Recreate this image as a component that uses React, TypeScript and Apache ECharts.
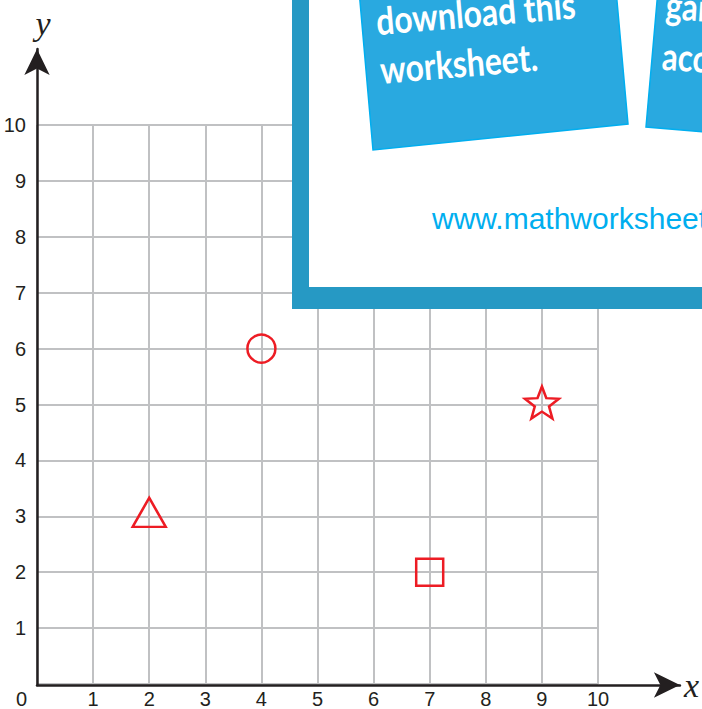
import React, { useEffect, useRef } from "react";
import * as echarts from "echarts";

// ---- data ----
const xTicks = [0, 1, 2, 3, 4, 5, 6, 7, 8, 9, 10];
const yTicks = [0, 1, 2, 3, 4, 5, 6, 7, 8, 9, 10];
const shapeNames = ["triangle", "circle", "square", "star"];
const shapeX = [2, 4, 7, 9];
const shapeY = [3, 6, 2, 5];
const xName = "x";
const yName = "y";
const note1Lines = ["download this", "worksheet."];
const note2Lines = ["gain", "access"];
const siteText = "www.mathworksheets4kids.com";

// ---- styles ----
const RED = "#ed1c24";
const GRIDC = "#c0c1c3";
const INK = "#231f20";

function starPath(R: number, r: number) {
  let d = "";
  for (let i = 0; i < 10; i++) {
    const a = (-90 + i * 36) * Math.PI / 180;
    const rad = i % 2 === 0 ? R : r;
    const px = (rad * Math.cos(a)).toFixed(2);
    const py = (rad * Math.sin(a)).toFixed(2);
    d += (i === 0 ? "M" : "L") + px + " " + py + " ";
  }
  return "path://" + d + "Z";
}

const symbolStyle: Record<string, any> = {
  triangle: { symbol: "triangle", symbolSize: [33, 29], symbolOffset: [0, -4] },
  circle: { symbol: "circle", symbolSize: 28, symbolOffset: [0, 0] },
  square: { symbol: "rect", symbolSize: 27, symbolOffset: [0, 0] },
  star: { symbol: starPath(50, 21), symbolSize: [34, 32], symbolOffset: [0, -2] },
};

export default function App() {
  const ref = useRef<HTMLDivElement>(null);
  useEffect(() => {
    if (!ref.current) return;
    const chart = echarts.init(ref.current, undefined, { renderer: "svg" });
    const xMin = xTicks[0];
    const xMax = xTicks[xTicks.length - 1];
    const yMin = yTicks[0];
    const yMax = yTicks[yTicks.length - 1];

    const points = shapeNames.map((n, i) => ({
      name: n,
      value: [shapeX[i], shapeY[i]],
      ...symbolStyle[n],
    }));

    const option: any = {
      animation: false,
      backgroundColor: "#ffffff",
      grid: [
        { left: 37, right: 104, top: 125, bottom: 24 },
        { left: 37, right: 22, top: 49, bottom: 24 },
      ],
      xAxis: [
        {
          type: "value",
          gridIndex: 0,
          min: xMin,
          max: xMax,
          interval: 1,
          axisLine: { show: false },
          axisTick: { show: false },
          splitLine: { show: true, lineStyle: { color: GRIDC, width: 2 } },
          axisLabel: {
            margin: 5,
            color: INK,
            fontSize: 20,
            fontFamily: "Liberation Sans",
            formatter: (v: number) => (v === xMin ? "{z|" + v + "}" : String(v)),
            rich: { z: { padding: [0, 31, 0, 0], fontSize: 20, color: INK, fontFamily: "Liberation Sans" } },
          },
        },
        {
          type: "value",
          gridIndex: 1,
          min: 0,
          max: 1,
          axisLine: {
            show: true,
            symbol: ["none", "arrow"],
            symbolSize: [19, 26],
            lineStyle: { color: INK, width: 2.5 },
          },
          axisTick: { show: false },
          axisLabel: { show: false },
          splitLine: { show: false },
          name: xName,
          nameLocation: "end",
          nameGap: 4,
          nameTextStyle: {
            fontFamily: "Liberation Serif",
            fontStyle: "italic",
            fontSize: 34,
            color: INK,
            verticalAlign: "middle",
            padding: [0, 0, 16, 0],
          },
        },
      ],
      yAxis: [
        {
          type: "value",
          gridIndex: 0,
          min: yMin,
          max: yMax,
          interval: 1,
          axisLine: { show: false },
          axisTick: { show: false },
          splitLine: { show: true, lineStyle: { color: GRIDC, width: 2 } },
          axisLabel: {
            margin: 11,
            color: INK,
            fontSize: 20,
            fontFamily: "Liberation Sans",
            showMinLabel: false,
            formatter: (v: number) => (v === yMin ? "" : String(v)),
          },
        },
        {
          type: "value",
          gridIndex: 1,
          min: 0,
          max: 1,
          axisLine: {
            show: true,
            symbol: ["none", "arrow"],
            symbolSize: [19, 26],
            lineStyle: { color: INK, width: 2.5 },
          },
          axisTick: { show: false },
          axisLabel: { show: false },
          splitLine: { show: false },
          name: yName,
          nameLocation: "end",
          nameGap: 9,
          nameTextStyle: {
            fontFamily: "Liberation Serif",
            fontStyle: "italic",
            fontSize: 34,
            color: INK,
            padding: [0, 0, 0, 12],
          },
        },
      ],
      series: [
        {
          type: "scatter",
          xAxisIndex: 0,
          yAxisIndex: 0,
          data: points,
          itemStyle: { color: "rgba(0,0,0,0)", borderColor: RED, borderWidth: 2.5, opacity: 1 },
          z: 5,
        },
      ],
      graphic: [
        { type: "rect", z: 100, shape: { x: 292, y: -20, width: 440, height: 329 }, style: { fill: "#2699c4" } },
        { type: "rect", z: 101, shape: { x: 309, y: -20, width: 440, height: 307 }, style: { fill: "#ffffff" } },
        {
          type: "polygon",
          z: 102,
          shape: { points: [[359, -10], [373, 150], [628, 124], [616, -10]] },
          style: { fill: "#29a9e0", stroke: "#00aeef", lineWidth: 1.5 },
        },
        {
          type: "polygon",
          z: 102,
          shape: { points: [[658, -10], [646, 127], [715, 133], [715, -10]] },
          style: { fill: "#29a9e0", stroke: "#00aeef", lineWidth: 1.5 },
        },
        {
          type: "group",
          z: 103,
          x: 377,
          y: 33,
          rotation: 0.085,
          scaleX: 0.84,
          children: note1Lines.map((t, i) => ({
            type: "text",
            z: 103,
            x: 0,
            y: -13 + i * 49,
            style: {
              text: t,
              fill: "#ffffff",
              fontSize: 38,
              fontFamily: "Lato",
              fontWeight: "bold",
              align: "left",
              verticalAlign: "middle",
            },
          })),
        },
        {
          type: "group",
          z: 103,
          x: 665,
          y: 17,
          rotation: -0.07,
          scaleX: 0.82,
          children: note2Lines.map((t, i) => ({
            type: "text",
            z: 103,
            x: 0,
            y: -13 + i * 51,
            style: {
              text: t,
              fill: "#ffffff",
              fontSize: 38,
              fontFamily: "Lato",
              fontWeight: "bold",
              align: "left",
              verticalAlign: "middle",
            },
          })),
        },
        {
          type: "text",
          z: 103,
          x: 432,
          y: 218,
          style: {
            text: siteText,
            fill: "#00aeef",
            fontSize: 30,
            fontFamily: "Liberation Sans",
            align: "left",
            verticalAlign: "middle",
          },
        },
      ],
    };
    chart.setOption(option);
    return () => chart.dispose();
  }, []);
  return (
    <div
      ref={ref}
      style={{ position: "absolute", left: 0, top: 0, width: 702, height: 709 }}
    />
  );
}
